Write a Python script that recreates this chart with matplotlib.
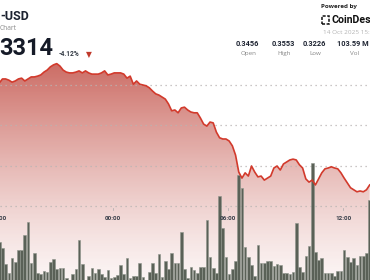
import matplotlib
matplotlib.use('Agg')
import matplotlib.pyplot as plt
import numpy as np
from matplotlib.patches import Rectangle

# ---- data (10 minute candles, hours relative to 00:00) ----
t_start = -5.95
step = 1 / 6

price = [0.3505, 0.3515, 0.3515, 0.3512, 0.3507, 0.3510, 0.3515, 0.3517, 0.3510, 0.3515,
         0.3520, 0.3520, 0.3522, 0.3525, 0.3532, 0.3537, 0.3545, 0.3550, 0.3553, 0.3547,
         0.3537, 0.3532, 0.3530, 0.3530, 0.3532, 0.3535, 0.3530, 0.3535, 0.3530, 0.3527,
         0.3527, 0.3527, 0.3530, 0.3535, 0.3525, 0.3527, 0.3530, 0.3530, 0.3530, 0.3527,
         0.3517, 0.3522, 0.3502, 0.3510, 0.3502, 0.3500, 0.3498, 0.3493, 0.3485, 0.3478,
         0.3475, 0.3470, 0.3465, 0.3453, 0.3436, 0.3438, 0.3431, 0.3443, 0.3445, 0.3438,
         0.3433, 0.3431, 0.3431, 0.3418, 0.3403, 0.3398, 0.3408, 0.3406, 0.3383, 0.3369,
         0.3366, 0.3366, 0.3361, 0.3349, 0.3326, 0.3284, 0.3269, 0.3282, 0.3274, 0.3299,
         0.3284, 0.3272, 0.3274, 0.3264, 0.3269, 0.3274, 0.3294, 0.3299, 0.3289, 0.3304,
         0.3309, 0.3314, 0.3316, 0.3314, 0.3302, 0.3294, 0.3267, 0.3259, 0.3264, 0.3252,
         0.3267, 0.3282, 0.3292, 0.3294, 0.3297, 0.3294, 0.3292, 0.3282, 0.3269, 0.3257,
         0.3245, 0.3240, 0.3235, 0.3237, 0.3235, 0.3240, 0.3252]

# volume, relative units
volume = [42, 36, 20, 11, 26, 22, 34, 34, 49, 62, 21, 31, 11, 10, 13, 12, 22, 25, 15, 16,
          16, 6, 4, 10, 15, 44, 20, 4, 8, 16, 11, 15, 10, 7, 14, 6, 7, 9, 19, 10,
          26, 6, 8, 8, 21, 7, 4, 12, 21, 11, 30, 7, 23, 15, 31, 21, 21, 52, 15,
          6, 17, 14, 11, 17, 17, 64, 27, 16, 11, 88, 56,
          27, 10, 15, 23, 109, 96, 37, 27, 19, 8, 39, 21, 21, 23, 23, 18, 20, 19, 11, 11,
          10, 12, 61, 17, 12, 28, 38, 121, 32, 24, 26, 11, 11, 11, 8, 13, 13, 34, 27, 22,
          26, 19, 28, 28, 31, 84]

grid_prices = [0.35, 0.34, 0.33, 0.32]
tick_hours = [-6, 0, 6, 12]
tick_labels = ['18:00', '00:00', '06:00', '12:00']

stat_values = ['0.3456', '0.3553', '0.3226', '103.59 M']
stat_names = ['Open', 'High', 'Low', 'Vol']

times = t_start + step * np.arange(len(price))

W, H = 370, 280
fig = plt.figure(figsize=(W / 100, H / 100), dpi=100)
fig.patch.set_facecolor('white')

def px(x, y):
    return x / W, 1 - y / H

xlim = (-5.911, 13.40)
ylim = (0.30161, 0.37109)

# price fill + grid
ax = fig.add_axes([0, 0, 1, 1])
ax.set_xlim(xlim)
ax.set_ylim(ylim)
ax.axis('off')

rows = np.arange(H) + 0.5
a = 0.06 + 0.72 * np.clip((H - rows) / 215, 0, 1) ** 1.3
grad = np.zeros((H, 1, 4))
grad[:, 0, 0] = 190 / 255
grad[:, 0, 1] = 68 / 255
grad[:, 0, 2] = 58 / 255
grad[:, 0, 3] = a
poly = ax.fill_between(times, price, ylim[0], facecolor='none', edgecolor='none')
im = ax.imshow(grad, extent=[xlim[0], xlim[1], ylim[0], ylim[1]], aspect='auto',
               origin='upper', zorder=1)
im.set_clip_path(poly.get_paths()[0], transform=ax.transData)

for g in grid_prices:
    ax.axhline(g, color='#b9b4b4', lw=0.9, linestyle=(0, (1, 3)), zorder=2)

# volume bars
axv = fig.add_axes([0, 0, 1, 1], sharex=ax)
axv.set_ylim(4, 284)
axv.axis('off')
axv.patch.set_visible(False)
axv.bar(times, volume, width=step * 0.82, color='#5a6157', edgecolor='#8e948b', linewidth=0.4)

# price line
axl = fig.add_axes([0, 0, 1, 1], sharex=ax, sharey=ax)
axl.axis('off')
axl.patch.set_visible(False)
axl.plot(times, price, color='#d23a2c', lw=1.2, solid_joinstyle='round')

# time labels
for th, lab in zip(tick_hours, tick_labels):
    axl.text(th, 1 - 219 / H, lab, transform=axl.get_xaxis_transform(), ha='center',
             va='center', fontsize=4.6, fontweight='bold', color='#3a3f4a', family='Roboto')
    axl.plot([th, th], [1 - 207.5 / H, 1 - 209.5 / H], transform=axl.get_xaxis_transform(),
             color='#aaaaaa', lw=0.5)

# header, left
fig.text(*px(0, 17), '-USD', fontsize=9, fontweight='bold', color='#1c2230',
         family='Roboto', va='center')
fig.text(*px(0, 28.5), 'Chart', fontsize=4.8, color='#8a8a8a', family='Open Sans', va='center')
fig.text(*px(-1, 48), '3314', fontsize=17, fontweight='bold', color='#151a27',
         family='Roboto', va='center')
fig.text(*px(59, 54.5), '-4.12%', fontsize=4.8, fontweight='bold', color='#333a44',
         family='Roboto', va='center')
fig.text(*px(89, 54.5), '\u25bc', fontsize=5.5, color='#c0392b', ha='center', va='center')

# header, right
fig.text(*px(321, 6.5), 'Powered by', fontsize=4.5, fontweight='bold', color='#222',
         family='Open Sans', va='center')
fig.patches.append(Rectangle(px(321.5, 23.5), 7 / W, 7 / H, transform=fig.transFigure,
                             fill=False, edgecolor='#111', lw=1.1, linestyle=(0, (2, 1))))
fig.text(*px(331.5, 20), 'CoinDesk', fontsize=7.6, fontweight='bold', color='#111',
         family='Roboto', va='center')
fig.text(*px(323, 33), '14 Oct 2025 15:00 UTC', fontsize=4.6, color='#b3b3b3',
         family='Open Sans', va='center')

stat_x = [247.5, 283.5, 314.5, 353]
for x, v, n in zip(stat_x, stat_values, stat_names):
    fig.text(*px(x, 44.5), v, fontsize=5.3, fontweight='bold', color='#1c2230',
             family='Roboto', ha='center', va='center')
    fig.text(*px(x + 1, 53.5), n, fontsize=4.5, color='#888', family='Open Sans',
             ha='center', va='center')

fig.savefig('out.png', dpi=100, facecolor='white')
